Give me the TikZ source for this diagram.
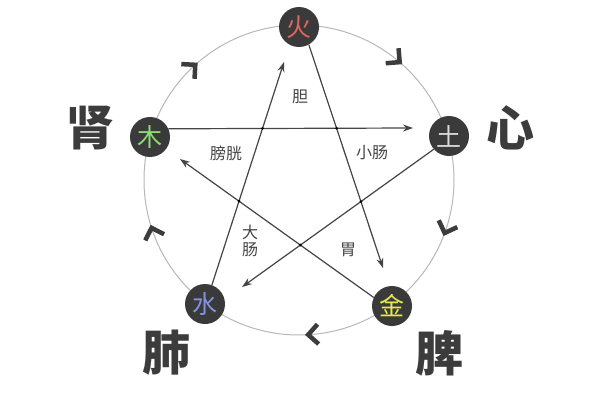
\documentclass[tikz,border=0pt]{standalone}
\usepackage{fontspec}
\newfontfamily\cjk{Noto Sans CJK SC}
\usetikzlibrary{arrows.meta,intersections}
\definecolor{nodefill}{HTML}{3A3A3A}
\definecolor{linegray}{HTML}{444444}
\definecolor{ringgray}{HTML}{B8B8B8}
\definecolor{bigtext}{HTML}{3C3C3C}
\definecolor{firec}{HTML}{E0665E}
\definecolor{woodc}{HTML}{8CDC74}
\definecolor{earthc}{HTML}{DADADA}
\definecolor{metalc}{HTML}{E6EA4E}
\definecolor{waterc}{HTML}{8592DE}
\tikzset{
  elem/.style={circle, fill=nodefill, minimum size=40pt, inner sep=0pt, font=\cjk\fontsize{25}{25}\selectfont},
  organ/.style={font=\cjk\bfseries\fontsize{48}{48}\selectfont, text=bigtext, inner sep=0pt},
  small/.style={font=\cjk\fontsize{16}{17}\selectfont, text=linegray, inner sep=0pt, align=center},
  starline/.style={draw=linegray, line width=1.2pt, -{Stealth[length=10pt,width=7pt]}},
  ring/.style={draw=ringgray, line width=1pt},
  chev/.style={draw=bigtext, line width=4.5pt, line join=miter, line cap=butt},
  xdot/.style={circle, fill=black, inner sep=0pt, minimum size=3pt}
}
\begin{document}
\begin{tikzpicture}[x=1pt,y=1pt]
\useasboundingbox[fill=white] (0,0) rectangle (600,400);
\draw[ring] (299,220) circle[radius=155];
\foreach \a in {132,49.5,-20,-86.6,198}
  \draw[chev] (299,220) ++(\a:155) ++(\a+45:14) -- ++(\a+225:14) -- ++(\a+135:14);
\node[elem, text=firec]  (huo)  at (299,373) {火};
\node[elem, text=earthc] (tu)   at (449,264) {土};
\node[elem, text=metalc] (jin)  at (392,94)  {金};
\node[elem, text=waterc] (shui) at (205,96)  {水};
\node[elem, text=woodc]  (mu)   at (150,263) {木};
\coordinate (t1) at (413,272);
\coordinate (t2) at (383,132);
\coordinate (t3) at (242,113);
\coordinate (t4) at (180,241);
\coordinate (t5) at (284,338);
\draw[starline, name path=L1] (mu.24) -- (t1);
\draw[starline, name path=L2] (huo.-61) -- (t2);
\draw[starline, name path=L3] (tu.221) -- (t3);
\draw[starline, name path=L4] (jin.155) -- (t4);
\draw[starline, name path=L5] (shui.70) -- (t5);
\path[name intersections={of=L1 and L5, name=ia}] node[xdot] (d1) at (ia-1) {};
\path[name intersections={of=L1 and L2, name=ib}] node[xdot] (d2) at (ib-1) {};
\path[name intersections={of=L2 and L3, name=ic}] node[xdot] (d3) at (ic-1) {};
\path[name intersections={of=L3 and L4, name=id}] node[xdot] (d4) at (id-1) {};
\path[name intersections={of=L4 and L5, name=ie}] node[xdot] (d5) at (ie-1) {};
\node[organ] (shen) at (90,272) {肾};
\node[organ] (xin)  at (510,272) {心};
\node[organ] (fei)  at (166,47) {肺};
\node[organ] (pi)   at (439,47) {脾};
\node[small] (dan) at (300,303) {胆};
\node[small] (pg)  at (226,247) {膀胱};
\node[small] (xc)  at (372,247) {小肠};
\node[small] (dc)  at (250,159) {大\\肠};
\node[small] (wei) at (348,150) {胃};
\end{tikzpicture}
\end{document}
